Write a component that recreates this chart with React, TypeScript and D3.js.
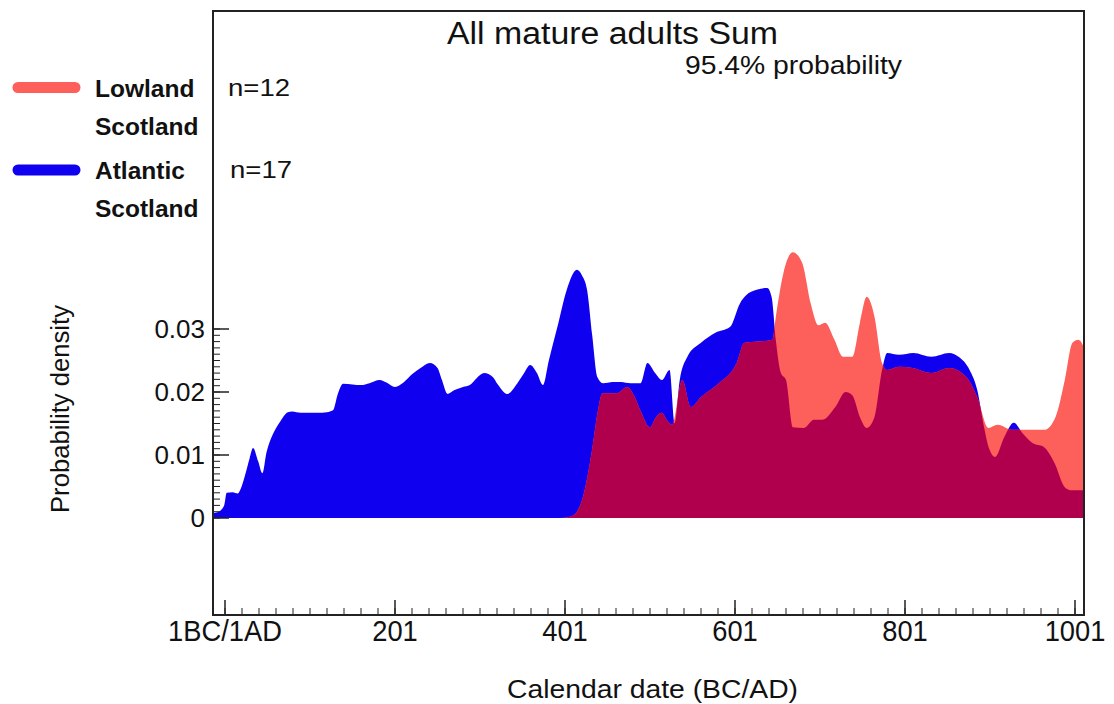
import React from "react";
import * as d3 from "d3";

// ---- data ----
const blueYears = [-13, -8, 0, 3, 10, 16, 20, 24, 30, 34, 40, 45, 50, 56, 60, 65, 75, 80, 90, 100, 110, 121, 128, 134, 140, 151, 161, 171, 183, 191, 201, 211, 221, 231, 242, 251, 256, 263, 271, 281, 289, 297, 306, 316, 322, 333, 345, 352, 360, 368, 375, 382, 392, 403, 415, 421, 427, 433, 439, 446, 457, 467, 478, 490, 498, 507, 515, 524, 530, 536, 545, 561, 578, 595, 607, 620, 639, 644, 649, 655, 661, 669, 682, 694, 704, 719, 731, 739, 748, 756, 765, 774, 780, 794, 811, 832, 853, 864, 877, 886, 894, 900, 907, 918, 929, 939, 951, 964, 977, 989, 997, 1012];
const blueValues = [0.0008, 0.0009, 0.002, 0.004, 0.0041, 0.0039, 0.0048, 0.0065, 0.0095, 0.0111, 0.009, 0.0071, 0.0105, 0.0129, 0.014, 0.0151, 0.0168, 0.0169, 0.0167, 0.0167, 0.0167, 0.0168, 0.0171, 0.0198, 0.0213, 0.0212, 0.0211, 0.0214, 0.0219, 0.0215, 0.0208, 0.0215, 0.0228, 0.0238, 0.0246, 0.0238, 0.022, 0.0197, 0.0203, 0.0208, 0.0211, 0.0222, 0.023, 0.0224, 0.0212, 0.0197, 0.0214, 0.0228, 0.0243, 0.023, 0.0211, 0.025, 0.0303, 0.0362, 0.0394, 0.0385, 0.0362, 0.029, 0.0224, 0.0214, 0.0216, 0.0216, 0.0214, 0.0214, 0.0246, 0.023, 0.0219, 0.0235, 0.015, 0.0219, 0.0256, 0.0278, 0.0294, 0.0303, 0.0341, 0.0359, 0.0365, 0.0351, 0.0283, 0.023, 0.0219, 0.0144, 0.0143, 0.0156, 0.0156, 0.0176, 0.02, 0.0195, 0.016, 0.0143, 0.016, 0.0235, 0.0262, 0.0259, 0.0262, 0.0256, 0.0262, 0.0256, 0.0235, 0.0203, 0.0144, 0.011, 0.0097, 0.0129, 0.0151, 0.0135, 0.0119, 0.0113, 0.0087, 0.0049, 0.0044, 0.0044];

const redYears = [-13, 395, 407, 415, 422, 433, 439, 445, 462, 474, 482, 490, 501, 508, 515, 521, 527, 539, 549, 561, 582, 603, 612, 628, 645, 649, 658, 669, 680, 690, 699, 707, 718, 728, 739, 748, 756, 765, 774, 780, 794, 810, 832, 853, 873, 886, 899, 910, 927, 948, 965, 978, 989, 998, 1005, 1012];
const redValues = [0, 0, 0.0002, 0.001, 0.0033, 0.011, 0.0165, 0.0198, 0.0198, 0.0208, 0.0195, 0.017, 0.0144, 0.016, 0.0167, 0.0155, 0.0148, 0.0219, 0.0176, 0.0192, 0.0214, 0.0246, 0.0278, 0.028, 0.0283, 0.0319, 0.0389, 0.0422, 0.0405, 0.0341, 0.0306, 0.031, 0.0283, 0.0256, 0.0256, 0.031, 0.0351, 0.032, 0.0246, 0.0235, 0.024, 0.0238, 0.023, 0.0238, 0.0224, 0.0192, 0.0143, 0.0148, 0.014, 0.014, 0.014, 0.016, 0.0219, 0.0278, 0.0283, 0.027];

const yMajorTicks = [0, 0.01, 0.02, 0.03];
const yTickLabels = ["0", "0.01", "0.02", "0.03"];
const xMajorTicks = [1, 201, 401, 601, 801, 1001];
const xTickLabels = ["1BC/1AD", "201", "401", "601", "801", "1001"];

const legendNames = [["Lowland", "Scotland"], ["Atlantic", "Scotland"]];
const legendCounts = ["n=12", "n=17"];

const FONT = "'Liberation Sans', Arial, Helvetica, sans-serif";

export default function App() {
  const left = 213, right = 1084, top = 11, bottom = 615;
  const x = d3.scaleLinear().domain([1 - 12 / 0.85, 1001 + 9 / 0.85]).range([left, right]);
  const y = d3.scaleLinear().domain([-(bottom - 518) / 6300, (518 - top) / 6300]).range([bottom, top]);

  const area = d3
    .area<[number, number]>()
    .x((d) => x(d[0]))
    .y0(y(0))
    .y1((d) => y(d[1]))
    .curve(d3.curveMonotoneX);

  const blueData = blueYears.map((yr, i) => [yr, blueValues[i]] as [number, number]);
  const redData = redYears.map((yr, i) => [yr, redValues[i]] as [number, number]);
  const bluePath = area(blueData) || "";
  const redPath = area(redData) || "";

  const yMinor = d3.range(0, 0.0305, 0.001);
  const xMinor = d3.range(1, 1002, 20);

  const legendColors = ["#fd5f5a", "#1000f0"];
  const legendY = [87.5, 170];

  return (
    <svg width={1114} height={704} style={{ position: "absolute", left: 0, top: 0, background: "#fff" }}>
      <defs>
        <clipPath id="plotClip">
          <rect x={left} y={top} width={right - left} height={bottom - top} />
        </clipPath>
        <clipPath id="blueClip">
          <path d={bluePath} />
        </clipPath>
      </defs>
      <rect width={1114} height={704} fill="#fff" />
      <g clipPath="url(#plotClip)">
        <path d={bluePath} fill="#1000f0" />
        <path d={redPath} fill="#fd5f5a" />
        <g clipPath="url(#blueClip)">
          <path d={redPath} fill="#b0004d" />
        </g>
      </g>

      {/* y ticks */}
      {yMinor.map((v, i) => (
        <line key={"ym" + i} x1={left} x2={left + 7} y1={y(v)} y2={y(v)} stroke="#222" strokeWidth={1} />
      ))}
      {yMajorTicks.map((v, i) => (
        <g key={"yM" + i}>
          <line x1={left} x2={left + 16} y1={y(v)} y2={y(v)} stroke="#222" strokeWidth={1.5} />
          <text x={205} y={y(v) + 9} textAnchor="end" fontFamily={FONT} fontSize={26} fill="#111">
            {yTickLabels[i]}
          </text>
        </g>
      ))}

      {/* x ticks */}
      {xMinor.map((v, i) => (
        <line key={"xm" + i} x1={x(v)} x2={x(v)} y1={bottom} y2={bottom - 7} stroke="#222" strokeWidth={1} />
      ))}
      {xMajorTicks.map((v, i) => (
        <g key={"xM" + i}>
          <line x1={x(v)} x2={x(v)} y1={bottom} y2={bottom - 15} stroke="#222" strokeWidth={1.5} />
          <g transform={`translate(${x(v)},641) scale(0.91,1)`}>
            <text x={0} y={0} textAnchor="middle" fontFamily={FONT} fontSize={30} fill="#111">
              {xTickLabels[i]}
            </text>
          </g>
        </g>
      ))}

      {/* frame */}
      <rect x={left} y={top} width={right - left} height={bottom - top} fill="none" stroke="#222" strokeWidth={2} />

      {/* titles */}
      <text x={447} y={44} fontFamily={FONT} fontSize={31} textLength={331} lengthAdjust="spacingAndGlyphs" fill="#111">
        All mature adults Sum
      </text>
      <text x={685} y={74} fontFamily={FONT} fontSize={25} textLength={217} lengthAdjust="spacingAndGlyphs" fill="#111">
        95.4% probability
      </text>
      <text x={507} y={698} fontFamily={FONT} fontSize={26} textLength={291} lengthAdjust="spacingAndGlyphs" fill="#111">
        Calendar date (BC/AD)
      </text>
      <text
        transform="translate(69,409) rotate(-90)"
        textAnchor="middle"
        fontFamily={FONT}
        fontSize={25}
        textLength={208}
        lengthAdjust="spacingAndGlyphs"
        fill="#111"
      >
        Probability density
      </text>

      {/* legend */}
      {legendNames.map((names, i) => (
        <g key={"lg" + i}>
          <line
            x1={18}
            x2={75}
            y1={legendY[i]}
            y2={legendY[i]}
            stroke={legendColors[i]}
            strokeWidth={11}
            strokeLinecap="round"
          />
          <text x={95} y={legendY[i] + 9} fontFamily={FONT} fontSize={24.5} fontWeight="bold" fill="#111">
            {names[0]}
          </text>
          <text x={95} y={legendY[i] + 47} fontFamily={FONT} fontSize={24.5} fontWeight="bold" fill="#111">
            {names[1]}
          </text>
          <text x={228 + i * 2} y={legendY[i] + 8} fontFamily={FONT} fontSize={24} textLength={62} lengthAdjust="spacingAndGlyphs" fill="#111">
            {legendCounts[i]}
          </text>
        </g>
      ))}
    </svg>
  );
}
